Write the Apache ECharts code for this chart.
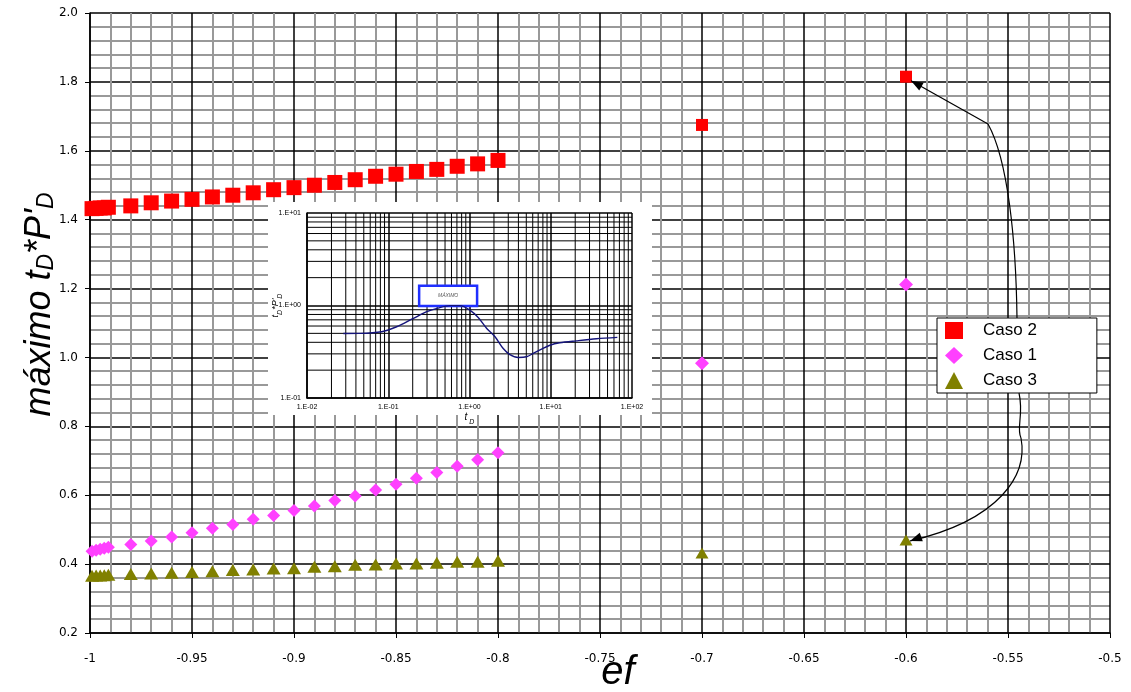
<!DOCTYPE html>
<html><head><meta charset="utf-8">
<script src="https://cdn.jsdelivr.net/npm/echarts@6/dist/echarts.min.js"></script>
<style>html,body{margin:0;padding:0;background:#fff}#c{width:1131px;height:692px}</style>
</head><body><div id="c"></div>
<script>
// ---- main chart data ----
const ef = [-0.999,-0.997,-0.995,-0.993,-0.991,-0.98,-0.97,-0.96,-0.95,-0.94,-0.93,-0.92,-0.91,-0.90,-0.89,-0.88,-0.87,-0.86,-0.85,-0.84,-0.83,-0.82,-0.81,-0.80,-0.70,-0.60];
const caso2 = [1.432,1.433,1.434,1.434,1.436,1.440,1.449,1.454,1.459,1.466,1.471,1.478,1.487,1.493,1.500,1.508,1.516,1.526,1.532,1.540,1.546,1.555,1.562,1.572,1.675,1.815];
const caso1 = [0.437,0.440,0.443,0.446,0.449,0.457,0.467,0.479,0.491,0.504,0.515,0.530,0.541,0.556,0.569,0.585,0.598,0.615,0.632,0.649,0.666,0.684,0.703,0.723,0.983,1.212];
const caso3 = [0.366,0.367,0.367,0.368,0.369,0.371,0.373,0.375,0.377,0.379,0.383,0.384,0.387,0.388,0.392,0.394,0.398,0.399,0.402,0.402,0.404,0.407,0.407,0.410,0.432,0.470];
const seriesNames = ['Caso 2','Caso 1','Caso 3'];

// ---- inset (log-log) data ----
const insetT = [0.028,0.045,0.083,0.127,0.204,0.298,0.40,0.575,0.764,1.01,1.28,1.63,2.06,2.6,3.14,3.98,5.04,6.08,7.7,9.75,12.9,20.7,36.5,66];
const insetP = [0.499,0.500,0.52,0.589,0.726,0.857,0.93,0.996,0.996,0.89,0.741,0.565,0.459,0.343,0.295,0.274,0.279,0.303,0.338,0.372,0.395,0.415,0.437,0.452];
const insetMinorX = [0.02,0.03,0.04,0.05,0.06,0.07,0.08,0.09,0.2,0.3,0.4,0.5,0.6,0.7,0.8,0.9,2,3,4,5,6,7,8,9,20,30,40,50,60,70,80,90];
const insetMinorY = [0.2,0.3,0.4,0.5,0.6,0.7,0.8,0.9,2,3,4,5,6,7,8,9];
const maximoBox = [0.24, 1.63, 1.24, 0.99]; // t1, P1, t2, P2

const chart = echarts.init(document.getElementById('c'), null, {renderer:'canvas'});

const bigSmall = (big, small) => (v, p) => (p.dataIndex >= 24 ? small : big);
const pair = arr => ef.map((x,i)=>[x, arr[i]]);

function logLabel(v){
  const e = Math.round(Math.log10(v));
  return '1.E' + (e < 0 ? '-' : '+') + String(Math.abs(e)).padStart(2,'0');
}

const minorRender = (isX) => (params, api) => {
  const cs = params.coordSys;
  if (isX) {
    const x = api.coord([api.value(0), 1])[0];
    return {type:'line', shape:{x1:x, y1:cs.y, x2:x, y2:cs.y+cs.height}, style:{stroke:'#000', lineWidth:1}};
  } else {
    const y = api.coord([1, api.value(1)])[1];
    return {type:'line', shape:{x1:cs.x, y1:y, x2:cs.x+cs.width, y2:y}, style:{stroke:'#000', lineWidth:1}};
  }
};

const boxRender = (params, api) => {
  const a = api.coord([api.value(0), api.value(1)]);
  const b = api.coord([api.value(2), api.value(3)]);
  return {type:'group', children:[
    {type:'rect', shape:{x:a[0], y:a[1], width:b[0]-a[0], height:b[1]-a[1]},
     style:{fill:'#fff', stroke:'#1f2fff', lineWidth:2.5}},
    {type:'text', style:{x:(a[0]+b[0])/2, y:(a[1]+b[1])/2, text:'MÁXIMO', align:'center', verticalAlign:'middle',
      fontSize:5, fontStyle:'italic', fontFamily:'Liberation Sans', fill:'#555'}}
  ]};
};

const FF = 'Liberation Sans, Arial, sans-serif';
const option = {
  backgroundColor:'#fff',
  animation:false,
  grid:[
    {left:90, right:21, top:13, bottom:59, outerBoundsMode:'none', containLabel:false},
    {left:307, top:213, width:325, height:185, outerBoundsMode:'none', containLabel:false}
  ],
  legend:{
    data: seriesNames,
    orient:'vertical', left:937, top:318,
    backgroundColor:'#fff', borderColor:'#000', borderWidth:1,
    padding:[4,60,4,8], itemGap:8, itemWidth:18, itemHeight:17,
    textStyle:{fontFamily:FF, fontSize:17, color:'#000', padding:[0,0,0,15]}
  },
  xAxis:[
    {type:'value', gridIndex:0, min:-1, max:-0.5, interval:0.05,
     name:'ef', nameLocation:'middle', nameGap:20, nameMoveOverlap:false,
     nameTextStyle:{fontFamily:FF, fontStyle:'italic', fontSize:40, color:'#000', padding:[0,0,0,36]},
     axisLine:{lineStyle:{color:'#000', width:1.5}},
     axisTick:{show:true, length:5, lineStyle:{color:'#000'}},
     axisLabel:{fontFamily:'DejaVu Sans, Verdana, sans-serif', fontSize:12, color:'#000', margin:20},
     splitLine:{show:true, lineStyle:{color:'#000', width:1.5}},
     minorTick:{show:false, splitNumber:5},
     minorSplitLine:{show:true, lineStyle:{color:'#999', width:2}}
    },
    {type:'log', gridIndex:1, logBase:10, min:0.01, max:100, splitNumber:4,
     name:'{i|t}{s| D}', nameLocation:'middle', nameGap:14, nameMoveOverlap:false,
     nameTextStyle:{rich:{i:{fontFamily:'Liberation Sans', fontStyle:'italic', fontSize:10, color:'#000', verticalAlign:'top', lineHeight:14},
                          s:{fontFamily:'Liberation Sans', fontStyle:'italic', fontSize:7, color:'#000', verticalAlign:'bottom', lineHeight:14}}},
     axisLine:{lineStyle:{color:'#000', width:1.5}},
     axisTick:{show:false},
     axisLabel:{formatter:logLabel, fontFamily:'Liberation Sans, Arial', fontSize:7, color:'#000', margin:6},
     splitLine:{show:true, lineStyle:{color:'#000', width:1.5}},
     z:5
    }
  ],
  yAxis:[
    {type:'value', gridIndex:0, min:0.2, max:2.0, interval:0.2,
     name:'{m|máximo t}{s|D}{m|*P\'}{s|D}', nameLocation:'middle', nameGap:32, nameRotate:90, nameMoveOverlap:false,
     nameTextStyle:{padding:[0,0,0,37], rich:{
       m:{fontFamily:FF, fontStyle:'italic', fontSize:36, color:'#000', verticalAlign:'top', lineHeight:36},
       s:{fontFamily:FF, fontStyle:'italic', fontSize:23, color:'#000', verticalAlign:'bottom', lineHeight:22, padding:[24,0,0,0]}}},
     axisLine:{show:true, lineStyle:{color:'#000', width:1.5}},
     axisTick:{show:true, length:5, lineStyle:{color:'#000'}},
     axisLabel:{formatter:v=>v.toFixed(1), fontFamily:'DejaVu Sans, Verdana, sans-serif', fontSize:12, color:'#000', margin:12},
     splitLine:{show:true, lineStyle:{color:'#000', width:1.5}},
     minorTick:{show:false, splitNumber:5},
     minorSplitLine:{show:true, lineStyle:{color:'#999', width:2}}
    },
    {type:'log', gridIndex:1, logBase:10, min:0.1, max:10, splitNumber:2,
     name:'{i|t}{s|D}{i|*P\'}{s|D}', nameLocation:'middle', nameGap:23, nameRotate:90, nameMoveOverlap:false,
     nameTextStyle:{rich:{i:{fontFamily:'Liberation Sans', fontStyle:'italic', fontSize:9, color:'#000', verticalAlign:'top', lineHeight:13},
                          s:{fontFamily:'Liberation Sans', fontStyle:'italic', fontSize:7, color:'#000', verticalAlign:'bottom', lineHeight:13}}},
     axisLine:{lineStyle:{color:'#000', width:1.5}},
     axisTick:{show:false},
     axisLabel:{formatter:logLabel, fontFamily:'Liberation Sans, Arial', fontSize:7, color:'#000', margin:6},
     splitLine:{show:true, lineStyle:{color:'#000', width:1.5}},
     z:5
    }
  ],
  series:[
    {name:'Caso 2', type:'scatter', xAxisIndex:0, yAxisIndex:0, data:pair(caso2), symbol:'rect', symbolSize:bigSmall(15,12),
     itemStyle:{color:'#ff0000', opacity:1}, z:3},
    {name:'Caso 1', type:'scatter', xAxisIndex:0, yAxisIndex:0, data:pair(caso1), symbol:'diamond', symbolSize:bigSmall(13,14),
     itemStyle:{color:'#ff40ff', opacity:1}, z:3},
    {name:'Caso 3', type:'scatter', xAxisIndex:0, yAxisIndex:0, data:pair(caso3), symbol:'triangle', symbolSize:bigSmall([14,12],[13,11]),
     itemStyle:{color:'#808000', opacity:1}, z:3},
    {type:'custom', xAxisIndex:1, yAxisIndex:1, data:insetMinorX.map(v=>[v,1]), renderItem:minorRender(true), silent:true, z:6},
    {type:'custom', xAxisIndex:1, yAxisIndex:1, data:insetMinorY.map(v=>[1,v]), renderItem:minorRender(false), silent:true, z:6},
    {type:'custom', xAxisIndex:1, yAxisIndex:1, data:[maximoBox], renderItem:boxRender, silent:true, z:7},
    {type:'line', xAxisIndex:1, yAxisIndex:1, data:insetT.map((t,i)=>[t, insetP[i]]), showSymbol:false, smooth:0.3,
     lineStyle:{color:'#14147a', width:1.4}, silent:true, z:8}
  ],
  graphic:[
    {id:'insetBg', type:'rect', left:268, top:202, shape:{width:384, height:213}, style:{fill:'#fff'}, z:2}
  ]
};
chart.setOption(option);

// arrows anchored to the Caso 2 / Caso 3 points at ef = -0.6
function arrowHead(tip, from){
  const dx = tip[0]-from[0], dy = tip[1]-from[1];
  const L = Math.hypot(dx,dy), ux = dx/L, uy = dy/L;
  const len = 12, w = 4.5;
  const bx = tip[0]-ux*len, by = tip[1]-uy*len;
  return [[tip[0],tip[1]],[bx-uy*w, by+ux*w],[bx+uy*w, by-ux*w]];
}
const last = ef.length-1;
const pTop = chart.convertToPixel({gridIndex:0}, [ef[last], caso2[last]]);
const pBot = chart.convertToPixel({gridIndex:0}, [ef[last], caso3[last]]);
const tipTop = [pTop[0]+5, pTop[1]+4];
const tipBot = [pBot[0]+4, pBot[1]+1];
const stroke = {stroke:'#000', fill:null, lineWidth:1.2};
chart.setOption({graphic:[
  {id:'insetBg', type:'rect', left:268, top:202, shape:{width:384, height:213}, style:{fill:'#fff'}, z:2},
  {type:'bezierCurve', shape:{x1:1017, y1:318, cpx1:1016, cpy1:240, cpx2:1008, cpy2:160, x2:988, y2:124}, style:stroke, z:10},
  {type:'line', shape:{x1:988, y1:124, x2:tipTop[0], y2:tipTop[1]}, style:stroke, z:10},
  {type:'polygon', shape:{points:arrowHead(tipTop,[988,124])}, style:{fill:'#000'}, z:10},
  {type:'bezierCurve', shape:{x1:1019, y1:393, cpx1:1024, cpy1:415, cpx2:1016, cpy2:428, x2:1021, y2:438}, style:stroke, z:10},
  {type:'bezierCurve', shape:{x1:1021, y1:438, cpx1:1028, cpy1:475, cpx2:1000, cpy2:520, x2:tipBot[0], y2:tipBot[1]}, style:stroke, z:10},
  {type:'polygon', shape:{points:arrowHead(tipBot,[965,521])}, style:{fill:'#000'}, z:10}
]});
</script>
</body></html>
